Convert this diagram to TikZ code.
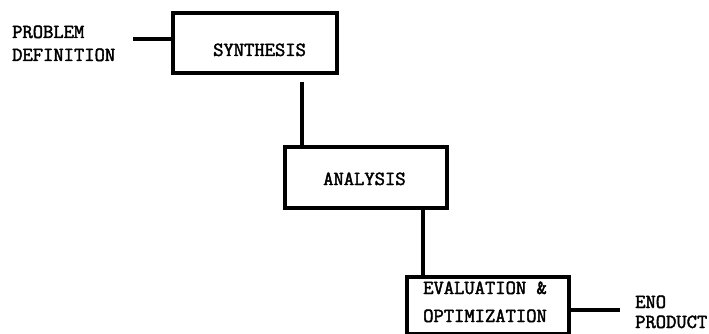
\documentclass[tikz,border=0pt]{standalone}
\usepackage{fontspec}
\newfontfamily\tyfont[FakeBold=2.2]{Latin Modern Mono}
\begin{document}
\begin{tikzpicture}[x=1pt,y=-1pt,
  blockbox/.style={draw=black,line width=3.6pt,rectangle,inner sep=0pt,anchor=north west},
  wire/.style={draw=black,line width=3.4pt},
  lbl/.style={inner sep=0pt,anchor=base west,font=\tyfont\bfseries\fontsize{20}{24}\selectfont}]
\useasboundingbox (0,0) rectangle (709,334);
% boxes
\node[blockbox,minimum width=164pt,minimum height=60pt] (synth) at (171,11) {};
\node[blockbox,minimum width=162pt,minimum height=61pt] (anal) at (283,145) {};
\node[blockbox,minimum width=162pt,minimum height=57pt] (eval) at (405,275) {};
% texts
\node[lbl] (t1) at (12,38) {PROBLEM};
\node[lbl] (t2) at (12,61) {DEFINITION};
\node[lbl] (ts) at (213,56) {SYNTHESIS};
\node[lbl] (ta) at (323,185) {ANALYSIS};
\node[lbl] (te1) at (423,294) {EVALUATION \&};
\node[lbl] (te2) at (423,322) {OPTIMIZATION};
\node[lbl] (tp1) at (635,308) {ENO};
\node[lbl] (tp2) at (635,328) {PRODUCT};
% connectors
\coordinate (pin) at (133,39);
\coordinate (pout) at (620,310);
\draw[wire] (pin) -- (pin -| synth.west);
\draw[wire] ([xshift=131pt,yshift=-7pt]synth.south west) -- ([xshift=19pt]anal.north west);
\draw[wire] ([xshift=140pt]anal.south west) -- ([xshift=18pt]eval.north west);
\draw[wire] (pout -| eval.east) -- (pout);
\end{tikzpicture}
\end{document}
